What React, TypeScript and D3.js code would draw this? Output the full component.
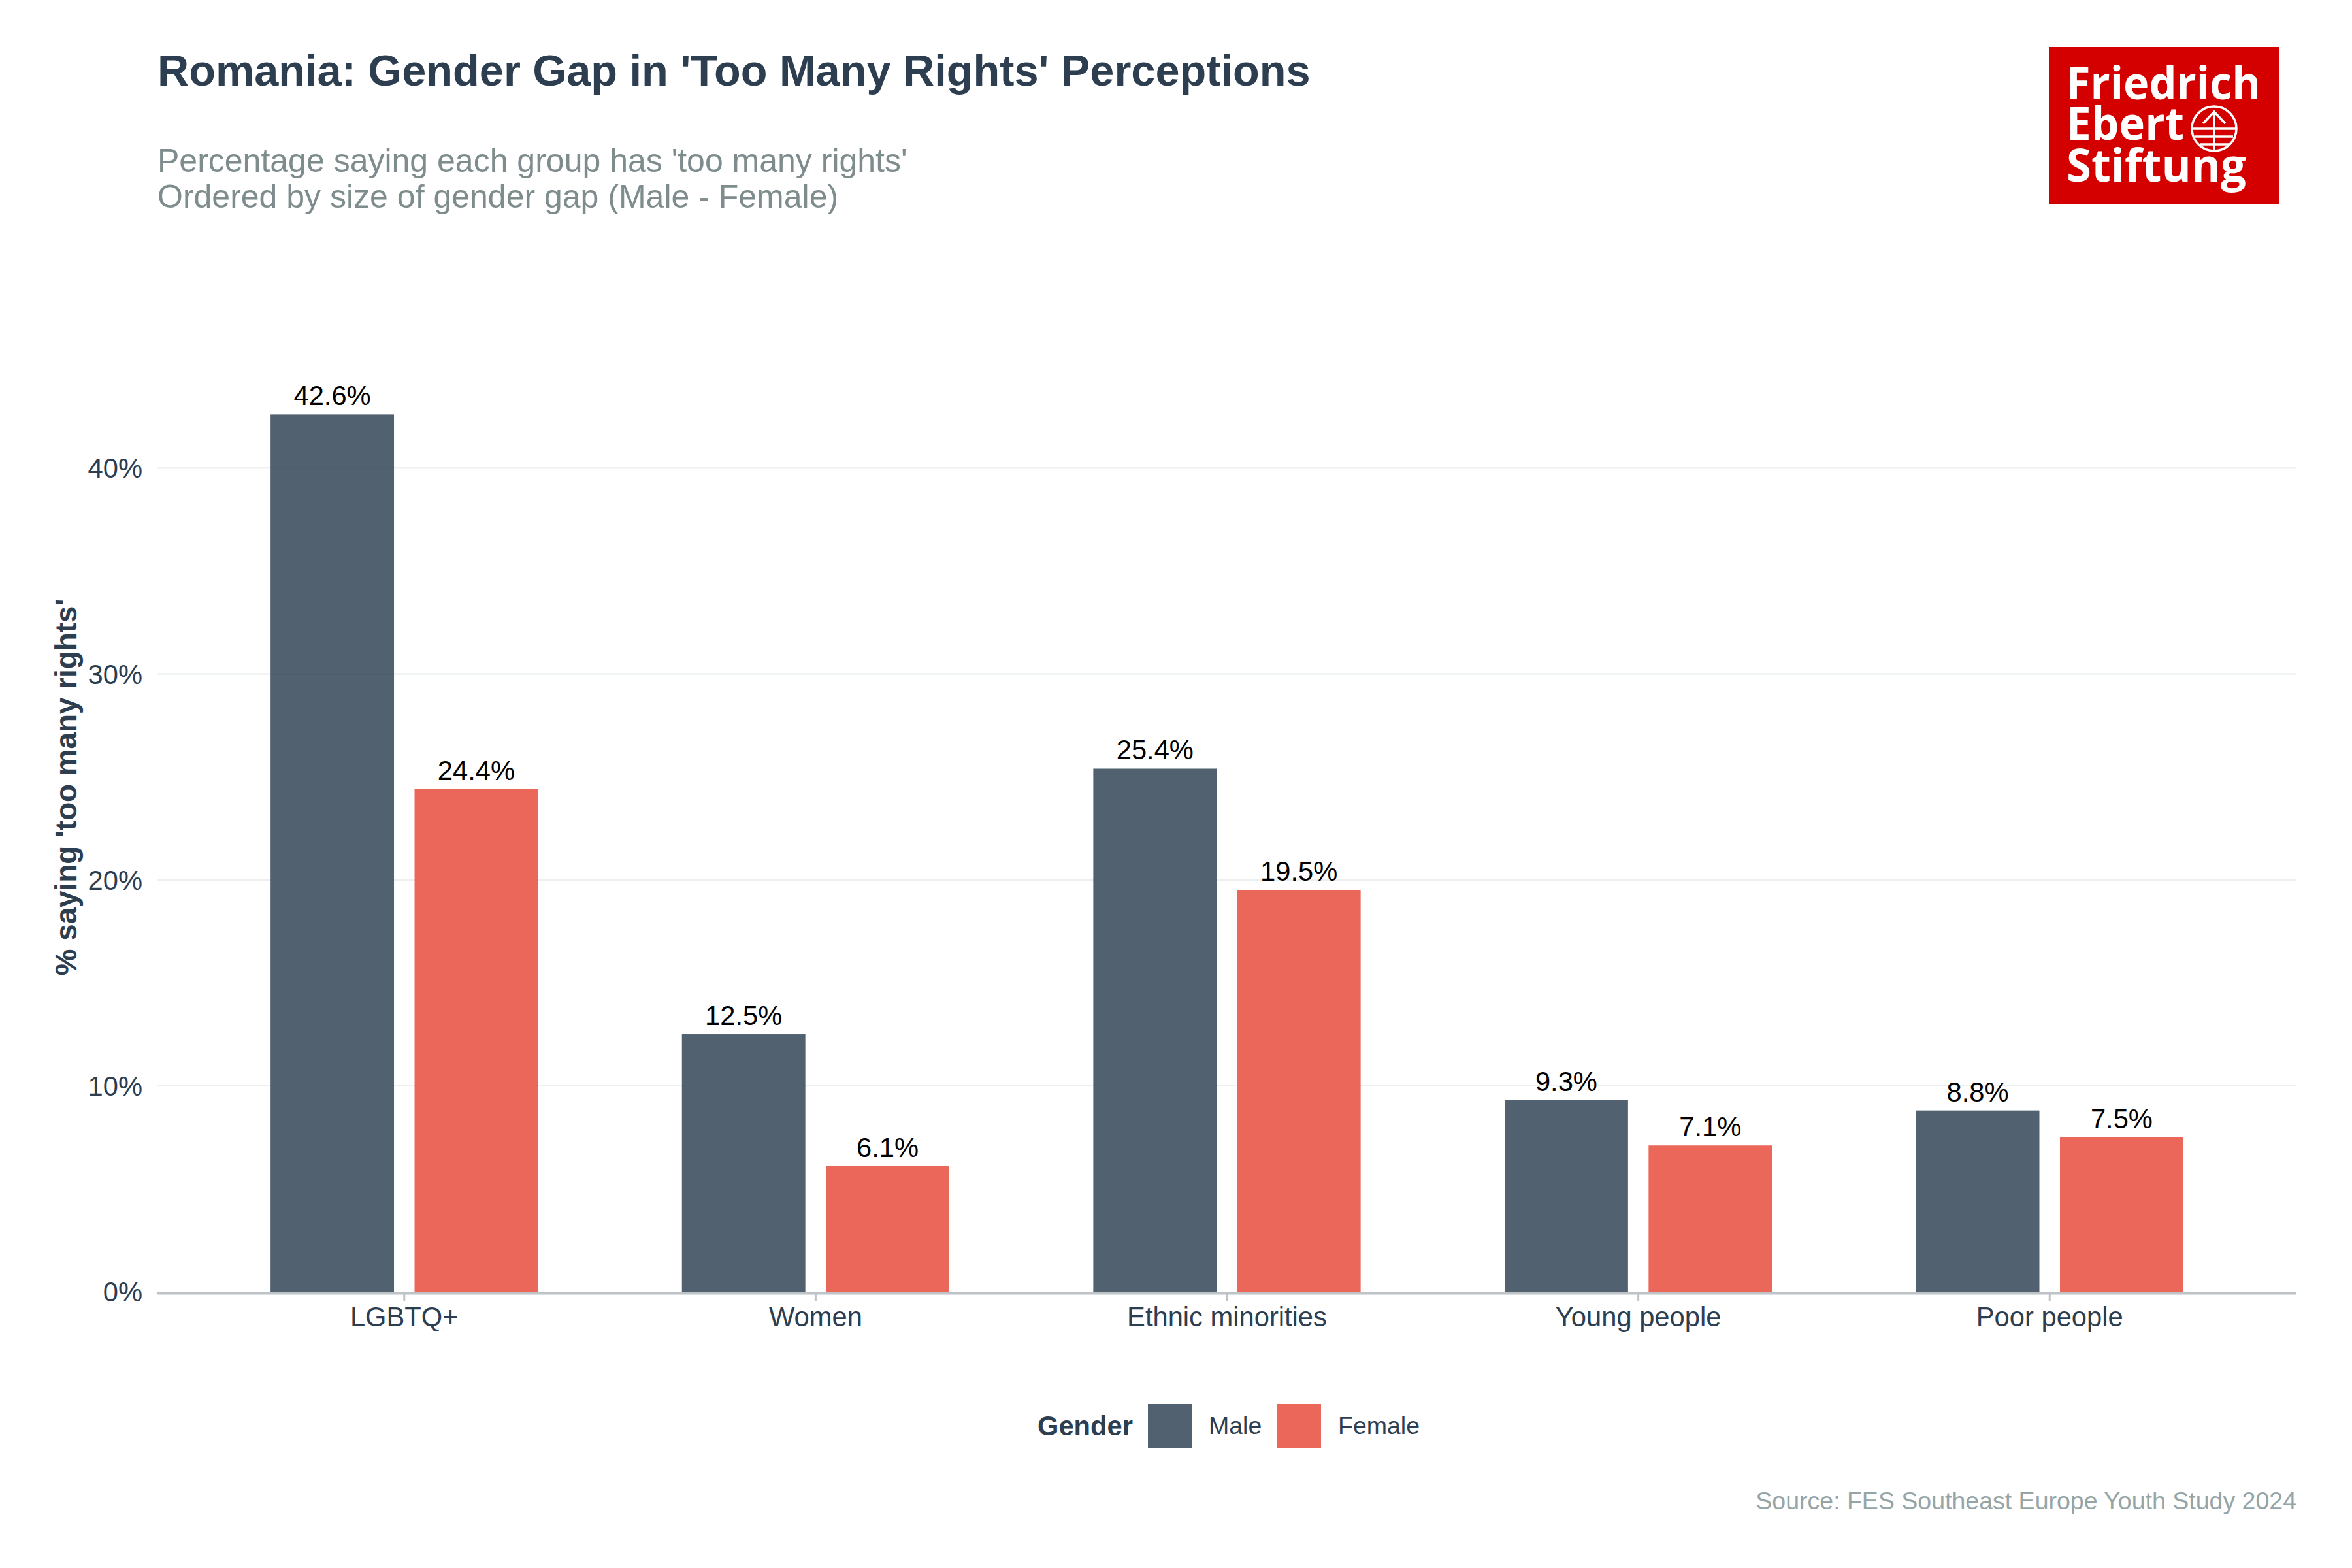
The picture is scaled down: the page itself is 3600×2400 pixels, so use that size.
import React from "react";
import * as d3 from "d3";

const categories = ["LGBTQ+", "Women", "Ethnic minorities", "Young people", "Poor people"];
const genders = ["Male", "Female"];
const maleValues = [42.6, 12.5, 25.4, 9.3, 8.8];
const femaleValues = [24.4, 6.1, 19.5, 7.1, 7.5];
const yTicks = [0, 10, 20, 30, 40];

const title = "Romania: Gender Gap in 'Too Many Rights' Perceptions";
const subtitleLines = ["Percentage saying each group has 'too many rights'", "Ordered by size of gender gap (Male - Female)"];
const yAxisTitle = "% saying 'too many rights'";
const legendTitle = "Gender";
const caption = "Source: FES Southeast Europe Youth Study 2024";

const W = 3600;
const H = 2400;
const FONT = "'Liberation Sans', Arial, Helvetica, sans-serif";
const DARK = "#2c3e50";
const colors: Record<string, string> = { Male: "#2c3e50", Female: "#e74c3c" };
const opac: Record<string, number> = { Male: 0.82, Female: 0.85 };

export default function App() {
  const panel = { left: 241, right: 3515, top: 433, bottom: 1977 };
  const x = d3
    .scaleBand<string>()
    .domain(categories)
    .range([panel.left, panel.right])
    .paddingInner(0)
    .paddingOuter(0.1);
  const y = d3
    .scaleLinear()
    .domain([0, d3.max(maleValues)! * 1.15])
    .range([panel.bottom, panel.top]);
  const step = x.step();
  const barW = step * 0.3;
  const dodge = step * 0.175;
  const fmtVal = (v: number) => d3.format(".1f")(v) + "%";
  const fmtTick = (v: number) => d3.format("d")(v) + "%";

  const series = [
    { g: "Male", values: maleValues, offset: -dodge },
    { g: "Female", values: femaleValues, offset: dodge },
  ];

  return (
    <svg
      width={W}
      height={H}
      viewBox={`0 0 ${W} ${H}`}
      style={{ position: "absolute", left: 0, top: 0, background: "#fff" }}
      fontFamily={FONT}
    >
      <rect x={0} y={0} width={W} height={H} fill="#fff" />

      {/* Title & subtitle */}
      <text x={241} y={131} fontSize={66.7} fontWeight="bold" fill={DARK}>
        {title}
      </text>
      {subtitleLines.map((s, i) => (
        <text key={i} x={241} y={263 + i * 55} fontSize={50} fill="#7f8c8d">
          {s}
        </text>
      ))}

      {/* Logo */}
      <g>
        <rect x={3136} y={72} width={352} height={240} fill="#d40000" />
        <g fill="#fff" fontFamily="'Open Sans', 'DejaVu Sans', sans-serif" fontWeight="bold" fontSize={70}>
          <text x={3163} y={152} textLength={297} lengthAdjust="spacingAndGlyphs">Friedrich</text>
          <text x={3163} y={214} textLength={180} lengthAdjust="spacingAndGlyphs">Ebert</text>
          <text x={3163} y={278} textLength={275} lengthAdjust="spacingAndGlyphs">Stiftung</text>
        </g>
        <g stroke="#fff" strokeWidth={3.5} fill="none">
          <circle cx={3389} cy={197} r={34} />
          <line x1={3355} y1={197} x2={3423} y2={197} />
          <line x1={3360} y1={209} x2={3418} y2={209} />
          <line x1={3367} y1={221} x2={3411} y2={221} />
          <line x1={3389} y1={171} x2={3389} y2={230} />
          <polyline points="3372,189 3389,171 3406,189" />
        </g>
      </g>

      {/* Gridlines */}
      {yTicks.filter((t) => t > 0).map((t) => (
        <line key={t} x1={panel.left} x2={panel.right} y1={y(t)} y2={y(t)} stroke="#ecf0f1" strokeWidth={2.5} />
      ))}

      {/* Bars */}
      {series.map((s) =>
        categories.map((c, i) => {
          const cx = x(c)! + step / 2 + s.offset;
          const v = s.values[i];
          return (
            <g key={s.g + c}>
              <rect
                x={cx - barW / 2}
                y={y(v)}
                width={barW}
                height={y(0) - y(v)}
                fill={colors[s.g]}
                fillOpacity={opac[s.g]}
              />
              <text x={cx} y={y(v) - 14} textAnchor="middle" fontSize={41.7} fill="#000">
                {fmtVal(v)}
              </text>
            </g>
          );
        })
      )}

      {/* Axis line */}
      <line x1={panel.left} x2={panel.right} y1={1979.5} y2={1979.5} stroke="#bdc3c7" strokeWidth={4} />

      {/* X ticks and labels */}
      {categories.map((c) => {
        const cx = x(c)! + step / 2;
        return (
          <g key={c}>
            <line x1={cx} x2={cx} y1={1981} y2={1991} stroke="#bdc3c7" strokeWidth={3} />
            <text x={cx} y={2030} textAnchor="middle" fontSize={41.7} fill={DARK}>
              {c}
            </text>
          </g>
        );
      })}

      {/* Y tick labels */}
      {yTicks.map((t) => (
        <text key={t} x={218} y={y(t) + 15} textAnchor="end" fontSize={41.7} fill={DARK}>
          {fmtTick(t)}
        </text>
      ))}

      {/* Y axis title */}
      <text
        transform={`translate(117, ${(panel.top + panel.bottom) / 2}) rotate(-90)`}
        textAnchor="middle"
        fontSize={45.8}
        fontWeight="bold"
        fill={DARK}
      >
        {yAxisTitle}
      </text>

      {/* Legend */}
      <g>
        <text x={1588} y={2197} fontSize={41.7} fontWeight="bold" fill={DARK}>
          {legendTitle}
        </text>
        {genders.map((g, i) => {
          const kx = [1757, 1955][i];
          return (
            <g key={g}>
              <rect x={kx} y={2149} width={67} height={67} fill={colors[g]} fillOpacity={opac[g]} />
              <text x={kx + 93} y={2195} fontSize={37.5} fill={DARK}>
                {g}
              </text>
            </g>
          );
        })}
      </g>

      {/* Caption */}
      <text x={3515} y={2310} textAnchor="end" fontSize={37.5} fill="#95a5a6">
        {caption}
      </text>
    </svg>
  );
}
